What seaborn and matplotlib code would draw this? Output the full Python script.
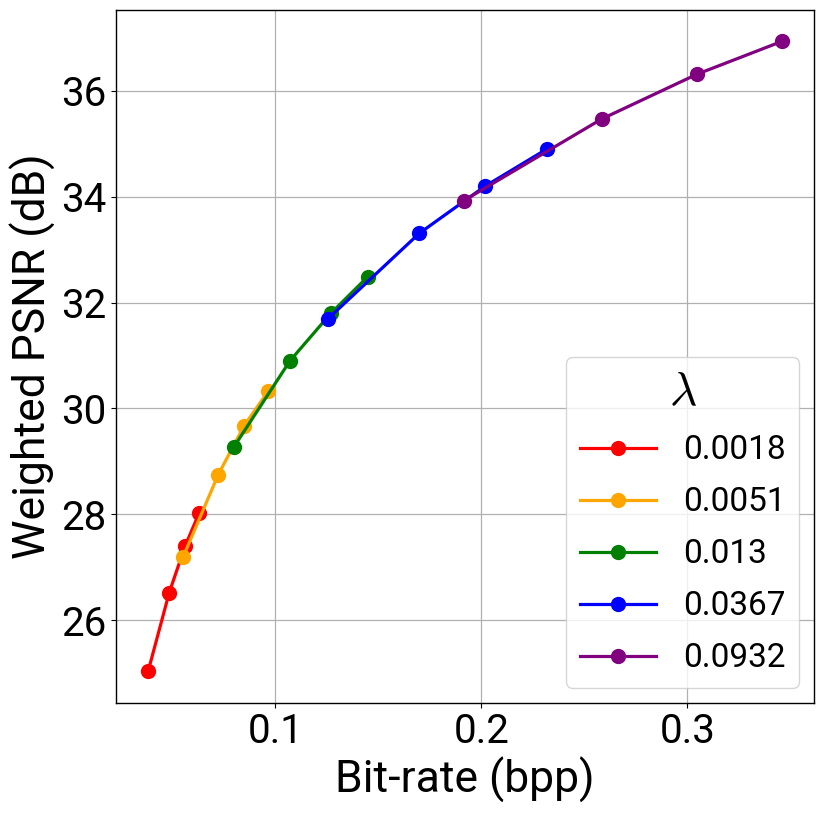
import matplotlib
matplotlib.use("Agg")
import matplotlib.pyplot as plt
import seaborn as sns
import pandas as pd

# Data
lambdas = ["0.0018", "0.0051", "0.013", "0.0367", "0.0932"]
colors = ["red", "orange", "green", "blue", "purple"]

bpp_0018 = [0.0383, 0.0485, 0.0562, 0.0631]
psnr_0018 = [25.04, 26.52, 27.40, 28.03]

bpp_0051 = [0.0553, 0.0723, 0.0848, 0.0966]
psnr_0051 = [27.20, 28.75, 29.67, 30.33]

bpp_013 = [0.0800, 0.1071, 0.1270, 0.1449]
psnr_013 = [29.28, 30.90, 31.80, 32.49]

bpp_0367 = [0.1257, 0.1699, 0.2018, 0.2317]
psnr_0367 = [31.70, 33.31, 34.20, 34.90]

bpp_0932 = [0.1916, 0.2584, 0.3049, 0.3461]
psnr_0932 = [33.93, 35.47, 36.32, 36.94]

xticks = [0.1, 0.2, 0.3]
yticks = [26, 28, 30, 32, 34, 36]

series = [(bpp_0018, psnr_0018), (bpp_0051, psnr_0051), (bpp_013, psnr_013),
          (bpp_0367, psnr_0367), (bpp_0932, psnr_0932)]
rows = []
for lam, (xs, ys) in zip(lambdas, series):
    for x, y in zip(xs, ys):
        rows.append({"bpp": x, "psnr": y, "lam": lam})
df = pd.DataFrame(rows)

plt.rcParams['font.family'] = ['Roboto', 'DejaVu Sans']
plt.rcParams['mathtext.fontset'] = 'cm'

fig = plt.figure(figsize=(8.23, 8.17), dpi=100)
ax = fig.add_axes([0.1413, 0.1399, 0.989 - 0.1413, 0.9874 - 0.1399])

sns.lineplot(data=df, x="bpp", y="psnr", hue="lam", hue_order=lambdas,
             palette=colors, marker="o", markersize=11, markeredgewidth=0,
             linewidth=2.3, ax=ax, sort=False)

ax.set_xlim(0.0228, 0.3615)
ax.set_ylim(24.44, 37.525)
ax.set_xticks(xticks)
ax.set_xticklabels([str(t) for t in xticks])
ax.set_yticks(yticks)
ax.tick_params(labelsize=29)
ax.grid(True, color="#b0b0b0", linewidth=0.9)
ax.set_axisbelow(True)
for s in ax.spines.values():
    s.set_color("black")
    s.set_linewidth(1.0)

ax.set_xlabel("Bit-rate (bpp)", fontsize=32)
ax.set_ylabel("Weighted PSNR (dB)", fontsize=32)

leg = ax.legend(title=r"$\lambda$", loc="lower right", fontsize=24,
                title_fontsize=34, handlelength=2.3, handletextpad=0.8,
                labelspacing=0.6, borderaxespad=0.45)

fig.savefig("out.png", dpi=100)
